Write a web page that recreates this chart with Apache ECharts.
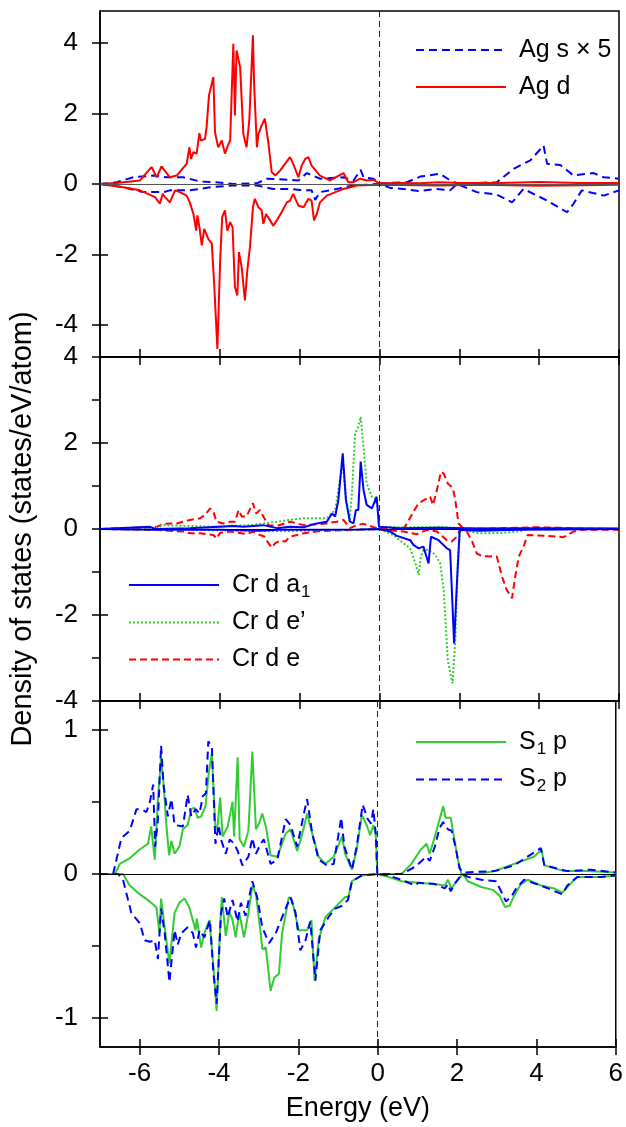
<!DOCTYPE html>
<html>
<head>
<meta charset="utf-8">
<script src="https://cdn.jsdelivr.net/npm/echarts@6/dist/echarts.min.js"></script>
<style>
  html, body { margin: 0; padding: 0; background: #fff; }
  #chart { width: 626px; height: 1127px; }
</style>
</head>
<body>
<div id="chart"></div>
<script>
// tick values
const xTicks = [-6, -4, -2, 0, 2, 4, 6];
const agTicks = [-4, -2, 0, 2, 4];
const crTicks = [-4, -2, 0, 2, 4];
const crMinor = [-4, -3, -2, -1, 0, 1, 2, 3, 4];
const sTicks = [-1, 0, 1];
const sMinor = [-1, -0.5, 0, 0.5, 1];

// panel 1 : Ag  [energy (eV), DOS]
const agSUp = [[-7,0],[-6.58,0.05],[-6.17,0.19],[-5.66,0.24],[-5.33,0.19],[-4.91,0.19],[-4.49,0.07],[-4.08,0.05],[-3.66,0],[-3.07,0.02],[-2.82,0.15],[-2.24,0.12],[-2.03,0.1],[-1.82,0.31],[-1.49,0.15],[-0.9,0.19],[-0.65,0.1],[-0.47,0.4],[-0.4,0.19],[-0.15,0.15],[-0.01,0.02],[0.69,0.05],[1.02,0.21],[1.52,0.29],[1.77,0.1],[1.94,0.02],[2.27,0.02],[2.94,0.05],[3.36,0.43],[3.78,0.67],[4.11,1.09],[4.2,0.57],[4.53,0.54],[4.86,0.24],[5.36,0.31],[5.62,0.19],[6,0.15]];
const agSDn = [[-7,0],[-6.42,-0.09],[-5.92,-0.23],[-5.41,-0.23],[-5.25,-0.18],[-4.75,-0.18],[-4.49,-0.14],[-4.24,-0.09],[-3.66,-0.04],[-3.07,-0.04],[-2.66,-0.14],[-2.24,-0.14],[-1.99,-0.17],[-1.7,-0.18],[-1.61,-0.45],[-1.49,-0.23],[-1.07,-0.14],[-0.65,-0.04],[-0.01,0],[0.27,-0.11],[0.6,-0.14],[0.98,-0.2],[1.44,-0.14],[1.77,-0.18],[1.94,0],[2.44,-0.23],[2.94,-0.3],[3.32,-0.52],[3.61,-0.14],[4.2,-0.47],[4.7,-0.8],[4.86,-0.56],[5.07,-0.18],[5.62,-0.33],[6,-0.18]];
const agDUp = [[-7,0],[-6.58,0.03],[-6,0.1],[-5.71,0.48],[-5.58,0.19],[-5.46,0.5],[-5.25,0.19],[-5.08,0.24],[-4.83,0.57],[-4.76,1.04],[-4.72,0.71],[-4.66,0.9],[-4.58,0.86],[-4.51,1.44],[-4.47,1.23],[-4.37,1.28],[-4.33,1.61],[-4.27,2.51],[-4.16,3.03],[-4.12,1.47],[-4.04,1.04],[-3.95,1.23],[-3.87,0.86],[-3.78,1.14],[-3.74,1.23],[-3.66,3.97],[-3.62,1.94],[-3.58,3.78],[-3.53,3.83],[-3.49,3.31],[-3.41,1.42],[-3.33,1.04],[-3.26,1.8],[-3.17,4.21],[-3.14,2.84],[-3.07,1.04],[-3.03,1.42],[-2.95,1.66],[-2.87,1.85],[-2.78,1.14],[-2.7,0.34],[-2.61,0.24],[-2.49,0.38],[-2.24,0.76],[-2.16,0.57],[-2.03,0.19],[-1.95,0.52],[-1.86,0.71],[-1.78,0.76],[-1.7,0.52],[-1.49,0.24],[-1.24,0.1],[-0.9,0.31],[-0.78,0.05],[-0.65,0.05],[-0.48,0.15],[-0.32,0.1],[-0.15,0.12],[-0.01,0.02],[0.5,0.03],[1,0.02],[1.5,0.05],[2,0.03],[3,0.03],[4,0.06],[5,0.03],[6,0.03]];
const agDDn = [[-7,0],[-6.42,-0.09],[-6,-0.18],[-5.62,-0.37],[-5.5,-0.56],[-5.43,-0.28],[-5.37,-0.37],[-5.25,-0.52],[-5.12,-0.18],[-5,-0.23],[-4.83,-0.33],[-4.75,-0.52],[-4.66,-0.85],[-4.59,-1.32],[-4.56,-0.89],[-4.51,-1.22],[-4.45,-1.74],[-4.39,-1.27],[-4.29,-1.55],[-4.2,-1.69],[-4.14,-2.83],[-4.06,-4.67],[-3.99,-2.17],[-3.94,-0.94],[-3.87,-0.75],[-3.81,-1.32],[-3.74,-1.08],[-3.68,-1.22],[-3.62,-2.92],[-3.56,-3.16],[-3.52,-1.93],[-3.45,-2.36],[-3.37,-3.3],[-3.31,-2.45],[-3.24,-1.74],[-3.17,-0.66],[-3.12,-0.42],[-3.03,-0.66],[-2.95,-0.75],[-2.91,-1.13],[-2.84,-0.85],[-2.74,-1.03],[-2.66,-1.18],[-2.57,-1.03],[-2.45,-0.8],[-2.32,-0.52],[-2.24,-0.47],[-2.16,-0.28],[-2.03,-0.61],[-1.9,-0.66],[-1.78,-0.42],[-1.7,-0.47],[-1.64,-1.03],[-1.57,-0.85],[-1.49,-0.52],[-1.32,-0.33],[-0.9,-0.14],[-0.57,-0.04],[-0.01,-0.02],[0.5,-0.03],[1.5,-0.04],[2.5,-0.02],[4,-0.05],[6,-0.02]];

// panel 2 : Cr d
const crA1Up = [[-7,0],[-5.75,0.05],[-5.6,0],[-4.75,0.02],[-3.66,0.07],[-3.41,0.05],[-2.91,0.09],[-2.57,0.02],[-2.24,0.05],[-1.9,0.04],[-1.57,0.13],[-1.32,0.17],[-1.19,0.36],[-1.11,0.29],[-1.03,0.67],[-0.92,1.76],[-0.84,0.67],[-0.74,0.17],[-0.65,0.13],[-0.59,0.44],[-0.53,0.44],[-0.47,1.57],[-0.4,0.91],[-0.32,0.56],[-0.19,0.48],[-0.07,0.75],[-0.01,0.05],[0.5,0.02],[1.5,0.03],[2.5,0.01],[4,0.02],[6,0.01]];
const crA1Dn = [[-7,0],[-5.62,-0.02],[-4,-0.02],[-3,-0.04],[-2.5,-0.02],[-1.5,-0.02],[-0.5,-0.01],[-0.01,0],[0.27,-0.06],[0.44,-0.16],[0.77,-0.26],[0.85,-0.37],[0.98,-0.45],[1.1,-0.41],[1.19,-0.68],[1.23,-0.8],[1.29,-0.18],[1.48,-0.26],[1.69,-0.45],[1.77,-0.49],[1.87,-2.66],[1.94,-1.26],[2.01,-0.02],[2.5,-0.04],[3,-0.03],[3.5,-0.02],[4.5,-0.01],[6,0]];
const crEpUp = [[-7,0],[-5.62,0.02],[-5.41,0.09],[-4.75,0.07],[-4.08,0.05],[-3.74,0.07],[-3.24,0.09],[-2.91,0.13],[-2.57,0.17],[-2.24,0.21],[-1.9,0.25],[-1.57,0.25],[-1.32,0.25],[-1.11,0.44],[-1.03,0.91],[-0.92,1.53],[-0.84,0.75],[-0.75,0.17],[-0.69,0.83],[-0.61,2.22],[-0.53,2.38],[-0.47,2.61],[-0.4,1.91],[-0.32,1.06],[-0.19,0.75],[-0.11,0.71],[-0.05,0.52],[-0.01,0.05],[0.6,0.04],[1.5,0.05],[2,0.02],[3,0.01],[4,0.02],[6,0.01]];
const crEpDn = [[-7,0],[-4,-0.03],[-2.5,-0.05],[-1.5,-0.03],[-0.5,-0.02],[-0.01,0],[0.35,-0.14],[0.6,-0.33],[0.77,-0.45],[0.9,-0.8],[0.98,-1.07],[1.04,-0.64],[1.1,-0.49],[1.23,-0.49],[1.4,-0.6],[1.52,-0.8],[1.61,-1.42],[1.71,-3.05],[1.83,-3.59],[1.9,-2.58],[1.96,-0.8],[2.02,-0.02],[2.27,-0.06],[2.52,-0.1],[3.11,-0.09],[3.44,-0.06],[3.78,0],[6,0]];
const crEUp = [[-7,0],[-5.58,0.05],[-5.41,0.12],[-5.08,0.13],[-4.75,0.21],[-4.49,0.25],[-4.37,0.33],[-4.24,0.48],[-4.16,0.4],[-4.08,0.17],[-3.91,0.13],[-3.74,0.17],[-3.62,0.17],[-3.53,0.44],[-3.45,0.29],[-3.33,0.29],[-3.17,0.6],[-3.09,0.36],[-2.99,0.44],[-2.91,0.29],[-2.78,0.09],[-2.57,0.07],[-2.24,0.17],[-1.9,0.09],[-1.57,0.11],[-1.32,0.13],[-1.07,0.17],[-0.9,0.21],[-0.74,0.02],[-0.57,0.09],[-0.4,0.12],[-0.01,0],[0.6,0],[0.69,0.13],[0.85,0.4],[0.98,0.6],[1.19,0.71],[1.27,0.75],[1.34,0.56],[1.44,0.91],[1.54,1.33],[1.61,1.29],[1.71,1.06],[1.84,0.95],[1.9,0.67],[1.98,0.13],[2.11,0],[3.5,0.03],[3.9,0.04],[4.5,0.03],[5,0.01],[6,0]];
const crEDn = [[-7,0],[-5.58,-0.02],[-4.91,-0.06],[-4.75,-0.1],[-4.49,-0.1],[-4.16,-0.14],[-4.08,-0.22],[-3.99,-0.09],[-3.74,-0.06],[-3.45,-0.1],[-3.33,-0.12],[-3.16,-0.06],[-2.99,-0.14],[-2.87,-0.18],[-2.78,-0.33],[-2.7,-0.43],[-2.61,-0.33],[-2.49,-0.27],[-2.36,-0.29],[-2.24,-0.18],[-2.07,-0.14],[-1.9,-0.1],[-1.57,-0.06],[-1.24,-0.04],[-0.01,0],[0.6,-0.06],[0.94,-0.12],[1.19,-0.02],[1.44,-0.06],[1.69,-0.26],[1.81,-0.29],[1.94,-0.18],[2.02,-0.02],[2.19,-0.06],[2.32,-0.29],[2.44,-0.57],[2.57,-0.63],[2.94,-0.64],[3.07,-1.11],[3.19,-1.42],[3.32,-1.61],[3.4,-1.11],[3.49,-0.64],[3.61,-0.41],[3.71,-0.14],[4.2,-0.16],[4.61,-0.19],[4.86,-0.06],[5.03,-0.02],[6,-0.02]];

// panel 3 : S p
const s1Up = [[-7,0],[-6.62,0],[-6.5,0.07],[-6.25,0.11],[-6,0.17],[-5.79,0.21],[-5.71,0.33],[-5.62,0.1],[-5.54,0.52],[-5.46,0.81],[-5.4,0.63],[-5.33,0.35],[-5.26,0.13],[-5.2,0.23],[-5.12,0.14],[-5,0.19],[-4.91,0.31],[-4.79,0.34],[-4.7,0.45],[-4.62,0.46],[-4.54,0.39],[-4.45,0.4],[-4.34,0.47],[-4.26,0.7],[-4.18,0.84],[-4.09,0.31],[-4.04,0.33],[-3.97,0.53],[-3.91,0.26],[-3.78,0.33],[-3.66,0.5],[-3.62,0.26],[-3.53,0.81],[-3.48,0.24],[-3.37,0.19],[-3.26,0.3],[-3.16,0.85],[-3.07,0.31],[-2.99,0.35],[-2.91,0.42],[-2.82,0.33],[-2.7,0.13],[-2.53,0.12],[-2.32,0.28],[-2.2,0.31],[-2.03,0.16],[-1.9,0.28],[-1.78,0.42],[-1.65,0.28],[-1.49,0.12],[-1.32,0.07],[-1.11,0.12],[-0.9,0.26],[-0.82,0.14],[-0.65,0.03],[-0.53,0.17],[-0.4,0.41],[-0.28,0.34],[-0.19,0.27],[-0.11,0.34],[-0.05,0.28],[-0.01,0],[0.6,0],[0.85,0.07],[1.06,0.16],[1.23,0.21],[1.31,0.14],[1.44,0.26],[1.56,0.38],[1.65,0.47],[1.71,0.39],[1.84,0.39],[1.92,0.26],[2.02,0.1],[2.11,0],[2.52,0],[2.94,0.02],[3.44,0.07],[3.94,0.12],[4.13,0.17],[4.2,0.06],[4.7,0.02],[5.28,0.02],[6,0.01]];
const s2Up = [[-7,0],[-6.67,0],[-6.46,0.25],[-6.25,0.3],[-6.08,0.45],[-5.96,0.45],[-5.83,0.43],[-5.75,0.49],[-5.66,0.62],[-5.61,0.19],[-5.54,0.38],[-5.46,0.89],[-5.4,0.62],[-5.29,0.4],[-5.2,0.52],[-5.12,0.34],[-4.91,0.33],[-4.79,0.55],[-4.7,0.4],[-4.59,0.45],[-4.49,0.42],[-4.41,0.54],[-4.33,0.56],[-4.27,0.92],[-4.18,0.88],[-4.09,0.21],[-4.01,0.34],[-3.95,0.24],[-3.83,0.14],[-3.73,0.24],[-3.62,0.21],[-3.53,0.16],[-3.41,0.06],[-3.26,0.12],[-3.16,0.25],[-3.07,0.14],[-2.95,0.21],[-2.87,0.24],[-2.7,0.07],[-2.53,0.1],[-2.32,0.38],[-2.2,0.34],[-2.03,0.19],[-1.86,0.42],[-1.78,0.52],[-1.65,0.28],[-1.49,0.1],[-1.28,0.06],[-1.11,0.07],[-0.92,0.39],[-0.84,0.19],[-0.65,0.03],[-0.53,0.19],[-0.38,0.48],[-0.25,0.38],[-0.17,0.35],[-0.11,0.45],[-0.05,0.28],[-0.01,0],[0.6,0],[0.94,0.05],[1.23,0.12],[1.31,0.09],[1.44,0.19],[1.56,0.32],[1.65,0.36],[1.77,0.31],[1.86,0.3],[1.96,0.19],[2.06,0.04],[2.15,0.01],[2.94,0.02],[3.44,0.06],[4.11,0.18],[4.2,0.06],[4.78,0.02],[5.36,0.03],[6,0.01]];
const s1Dn = [[-7,0],[-6.42,0],[-6.25,-0.08],[-6,-0.14],[-5.75,-0.19],[-5.58,-0.23],[-5.5,-0.41],[-5.46,-0.17],[-5.41,-0.17],[-5.37,-0.37],[-5.25,-0.62],[-5.12,-0.27],[-5,-0.2],[-4.87,-0.17],[-4.75,-0.23],[-4.59,-0.39],[-4.56,-0.31],[-4.45,-0.51],[-4.37,-0.41],[-4.24,-0.32],[-4.14,-0.65],[-4.06,-0.95],[-3.98,-0.41],[-3.93,-0.16],[-3.83,-0.43],[-3.74,-0.26],[-3.66,-0.32],[-3.58,-0.44],[-3.49,-0.27],[-3.37,-0.44],[-3.26,-0.27],[-3.16,-0.08],[-3.07,-0.14],[-2.95,-0.41],[-2.91,-0.52],[-2.82,-0.51],[-2.7,-0.81],[-2.61,-0.72],[-2.49,-0.69],[-2.41,-0.41],[-2.24,-0.16],[-2.16,-0.18],[-1.99,-0.39],[-1.78,-0.39],[-1.67,-0.32],[-1.59,-0.74],[-1.49,-0.46],[-1.32,-0.3],[-1.07,-0.23],[-0.82,-0.16],[-0.74,-0.16],[-0.65,-0.05],[-0.4,-0.01],[-0.01,0],[0.27,-0.02],[0.6,-0.05],[1.02,-0.06],[1.44,-0.07],[1.69,-0.08],[1.77,-0.04],[1.86,-0.1],[2.02,-0.04],[2.15,0],[2.27,-0.05],[2.61,-0.09],[2.9,-0.11],[3.07,-0.15],[3.21,-0.23],[3.32,-0.22],[3.44,-0.15],[3.61,-0.07],[3.78,-0.04],[4.11,-0.08],[4.45,-0.1],[4.65,-0.13],[4.78,-0.09],[5.03,-0.02],[5.62,-0.02],[6,-0.01]];
const s2Dn = [[-7,0],[-6.54,0],[-6.42,-0.04],[-6.21,-0.27],[-6,-0.34],[-5.87,-0.46],[-5.75,-0.47],[-5.62,-0.46],[-5.54,-0.59],[-5.46,-0.24],[-5.37,-0.41],[-5.25,-0.75],[-5.12,-0.39],[-5.04,-0.49],[-4.95,-0.41],[-4.79,-0.37],[-4.66,-0.41],[-4.58,-0.51],[-4.49,-0.39],[-4.37,-0.44],[-4.23,-0.32],[-4.14,-0.69],[-4.06,-0.9],[-3.95,-0.27],[-3.87,-0.17],[-3.78,-0.3],[-3.66,-0.18],[-3.53,-0.33],[-3.45,-0.2],[-3.33,-0.29],[-3.16,-0.05],[-3.03,-0.17],[-2.91,-0.37],[-2.74,-0.48],[-2.57,-0.41],[-2.41,-0.3],[-2.2,-0.16],[-2.07,-0.27],[-1.95,-0.53],[-1.82,-0.46],[-1.7,-0.33],[-1.57,-0.74],[-1.45,-0.39],[-1.24,-0.3],[-1.07,-0.24],[-0.9,-0.22],[-0.75,-0.18],[-0.65,-0.05],[-0.4,-0.01],[-0.01,0],[0.27,-0.01],[0.6,-0.04],[0.94,-0.08],[1.02,-0.06],[1.44,-0.07],[1.69,-0.1],[1.77,-0.07],[1.84,-0.12],[1.96,-0.06],[2.13,0],[2.27,-0.02],[2.61,-0.04],[2.98,-0.05],[3.11,-0.12],[3.23,-0.19],[3.36,-0.16],[3.49,-0.1],[3.69,-0.04],[4.11,-0.08],[4.65,-0.14],[4.78,-0.08],[5.03,-0.02],[5.62,-0.02],[6,-0.01]];

const FONT = '"Liberation Sans", Arial, sans-serif';
const grids = [
    { left: 100, right: 7, top: 11, height: 346 },
    { left: 100, right: 7, top: 357, height: 344 },
    { left: 100, right: 7, top: 701, height: 346 }
];
const yRange = [[-4.9, 4.9], [-4, 4], [-1.2, 1.2]];
const yMajor = [agTicks, crTicks, sTicks];
const yOuter = [agTicks, crMinor, sMinor];

let myChart = echarts.init(document.getElementById('chart'), null, { renderer: 'canvas' });

let xAxes = [];
let yAxes = [];
// outer ticks + labels
for (let i = 0; i < 3; i++) {
    xAxes.push({
        type: 'value', gridIndex: i, position: 'bottom', min: -7, max: 6,
        axisLine: { show: true, onZero: false, lineStyle: { color: '#000', width: 1.5 } },
        axisTick: { show: true, inside: false, length: 8, customValues: xTicks, lineStyle: { color: '#000', width: 1.5 } },
        axisLabel: { show: i == 2, customValues: xTicks, color: '#000', fontSize: 26, fontFamily: FONT, margin: 14 },
        splitLine: { show: false },
        name: i == 2 ? 'Energy (eV)' : '',
        nameLocation: 'middle', nameGap: 48,
        nameTextStyle: { color: '#000', fontSize: 27, fontFamily: FONT }
    });
    yAxes.push({
        type: 'value', gridIndex: i, position: 'left', min: yRange[i][0], max: yRange[i][1],
        axisLine: { show: true, onZero: false, lineStyle: { color: '#000', width: 1.5 } },
        axisTick: { show: true, inside: false, length: 8, customValues: yOuter[i], lineStyle: { color: '#000', width: 1.5 } },
        axisLabel: { show: true, customValues: yMajor[i], color: '#000', fontSize: 26, fontFamily: FONT, margin: 22 },
        splitLine: { show: false },
        name: i == 1 ? 'Density of states (states/eV/atom)' : '',
        nameLocation: 'middle', nameGap: 63,
        nameTextStyle: { color: '#000', fontSize: 29, fontFamily: FONT }
    });
}
// inner half of the crossing ticks
for (let i = 0; i < 3; i++) {
    xAxes.push({
        type: 'value', gridIndex: i, position: 'bottom', min: -7, max: 6,
        axisLine: { show: false, onZero: false },
        axisTick: { show: true, inside: true, length: 8, customValues: xTicks, lineStyle: { color: '#000', width: 1.5 } },
        axisLabel: { show: false }, splitLine: { show: false }
    });
    yAxes.push({
        type: 'value', gridIndex: i, position: 'left', min: yRange[i][0], max: yRange[i][1],
        axisLine: { show: false, onZero: false },
        axisTick: { show: true, inside: true, length: 8, customValues: yMajor[i], lineStyle: { color: '#000', width: 1.5 } },
        axisLabel: { show: false }, splitLine: { show: false }
    });
}

function curve(name, data, g, color, dash, width) {
    return {
        name: name, type: 'line', xAxisIndex: g, yAxisIndex: g, data: data,
        symbol: 'none', showSymbol: false, silent: true, z: 3,
        lineStyle: { color: color, width: width || 2, type: dash },
        itemStyle: { color: color }
    };
}

// zero line and fermi level (dashed) for each panel
function guides(g, zeroColor) {
    return {
        type: 'line', xAxisIndex: g, yAxisIndex: g, data: [], z: 1, silent: true,
        markLine: {
            symbol: ['none', 'none'], silent: true, animation: false,
            label: { show: false },
            data: [
                { yAxis: 0, lineStyle: { color: zeroColor, width: 1.2, type: 'solid' } },
                { xAxis: 0, lineStyle: { color: '#222', width: 1, type: [6, 4] } }
            ]
        }
    };
}

const RED = '#ff0000', BLUE = '#0000ff', GREEN = '#33cc33';

let series = [
    guides(0, '#555'), guides(1, '#000'), guides(2, '#000'),
    curve('Ag s × 5', agSUp, 0, BLUE, [8, 5]),
    curve('Ag s × 5', agSDn, 0, BLUE, [8, 5]),
    curve('Ag d', agDUp, 0, RED, 'solid'),
    curve('Ag d', agDDn, 0, RED, 'solid'),
    curve('Cr d e', crEUp, 1, RED, [7, 4]),
    curve('Cr d e', crEDn, 1, RED, [7, 4]),
    curve('Cr d e’', crEpUp, 1, GREEN, [2, 2]),
    curve('Cr d e’', crEpDn, 1, GREEN, [2, 2]),
    curve('Cr d a1', crA1Up, 1, BLUE, 'solid'),
    curve('Cr d a1', crA1Dn, 1, BLUE, 'solid'),
    curve('S1 p', s1Up, 2, GREEN, 'solid'),
    curve('S1 p', s1Dn, 2, GREEN, 'solid'),
    curve('S2 p', s2Up, 2, BLUE, [8, 5]),
    curve('S2 p', s2Dn, 2, BLUE, [8, 5])
];

const legendText = {
    color: '#000', fontSize: 25, fontFamily: FONT, lineHeight: 30, padding: [0, 0, 0, 8],
    rich: {
        t: { fontSize: 25, fontFamily: FONT, color: '#000' },
        sub: { fontSize: 17, fontFamily: FONT, color: '#000', padding: [14, 0, 0, 1] }
    }
};
function legendFmt(name) {
    if (name == 'Cr d a1') return '{t|Cr d a}{sub|1}';
    if (name == 'S1 p') return '{t|S}{sub|1}{t| p}';
    if (name == 'S2 p') return '{t|S}{sub|2}{t| p}';
    return '{t|' + name + '}';
}
function legendAt(data, left, top) {
    return {
        data: data, orient: 'vertical', left: left, top: top,
        itemWidth: 90, itemHeight: 14, itemGap: 7, padding: 0,
        selectedMode: false, formatter: legendFmt, textStyle: legendText,
        itemStyle: { opacity: 0 }
    };
}

option = {
    animation: false,
    backgroundColor: '#fff',
    grid: grids.map(function (g) {
        return Object.assign({ show: true, borderColor: '#000', borderWidth: 1.5, backgroundColor: 'transparent' }, g);
    }),
    xAxis: xAxes,
    yAxis: yAxes,
    legend: [
        legendAt(['Ag s × 5', 'Ag d'], 415, 35),
        legendAt(['Cr d a1', 'Cr d e’', 'Cr d e'], 128, 570),
        legendAt(['S1 p', 'S2 p'], 415, 727)
    ],
    series: series
};

myChart.setOption(option);
</script>
</body>
</html>
